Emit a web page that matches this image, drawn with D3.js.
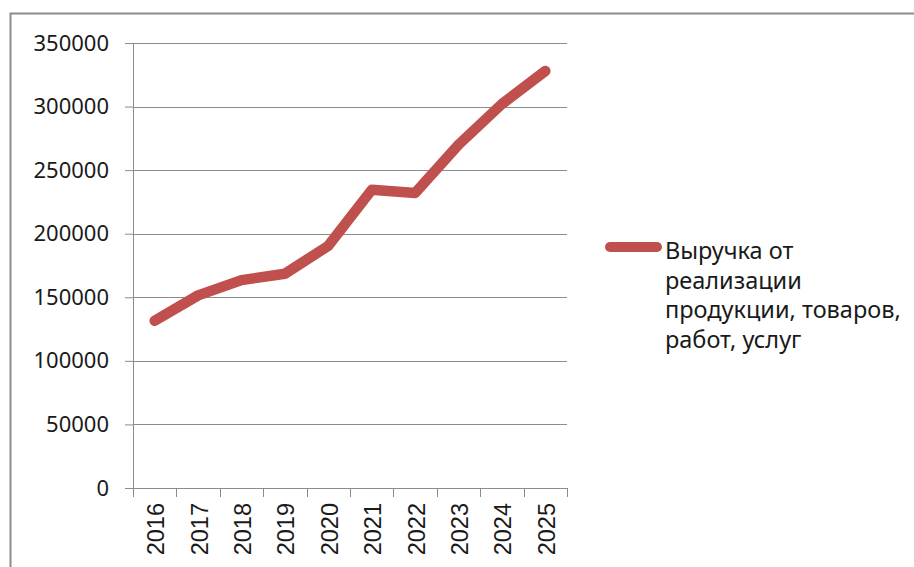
<!DOCTYPE html>
<html><head><meta charset="utf-8">
<script src="https://cdn.jsdelivr.net/npm/d3@7"></script>
<style>body{margin:0;background:#fff;}svg{display:block;}</style>
</head><body>
<svg id="c" width="914" height="567"></svg>
<script>
const years = ["2016","2017","2018","2019","2020","2021","2022","2023","2024","2025"];
const revenue = [131500, 151500, 163500, 168500, 190500, 234500, 232000, 270000, 302000, 328000];
const yTicks = [0, 50000, 100000, 150000, 200000, 250000, 300000, 350000];
const seriesName = ["Выручка от", "реализации", "продукции, товаров,", "работ, услуг"];

const svg = d3.select("#c");
const pL = 133, pR = 567, pT = 43, pB = 488;
const x = d3.scaleBand().domain(years).range([pL, pR]);
const y = d3.scaleLinear().domain([0, 350000]).range([pB, pT]);
const grid = "#8c8c8c";

// outer border
svg.append("rect").attr("x", 10.5).attr("y", 13.5).attr("width", 1000).attr("height", 1000)
  .attr("fill", "none").attr("stroke", "#8c8c8c").attr("stroke-width", 2);

// gridlines
svg.append("g").selectAll("line").data(yTicks.filter(d => d > 0)).join("line")
  .attr("x1", pL).attr("x2", pR)
  .attr("y1", d => Math.round(y(d)) + 0.5).attr("y2", d => Math.round(y(d)) + 0.5)
  .attr("stroke", grid).attr("stroke-width", 1);

// y axis
const yAxis = svg.append("g").attr("transform", `translate(${pL},0)`)
  .call(d3.axisLeft(y).tickValues(yTicks).tickSize(8).tickPadding(16).tickFormat(d3.format("d")).offset(0.5));
yAxis.select(".domain").attr("stroke", grid).attr("d", `M0.5,${pT}V${pB + 9}`);
yAxis.selectAll(".tick line").attr("stroke", grid);
yAxis.selectAll(".tick text").attr("fill", "#1a1a1a").style("font-family", "'Noto Sans', sans-serif").style("font-size", "22px").attr("x", -24);

// x axis
const xAxis = svg.append("g").attr("transform", `translate(0,${pB})`)
  .call(d3.axisBottom(x).tickSize(0).tickSizeOuter(0).offset(0.5));
xAxis.select(".domain").attr("stroke", grid).attr("d", `M${pL - 8},0.5H${pR}`);
xAxis.selectAll(".tick line").remove();
// tick marks at band boundaries
const bounds = years.map(d => x(d)).concat([pR]);
svg.append("g").selectAll("line").data(bounds).join("line")
  .attr("x1", d => Math.round(d) + 0.5).attr("x2", d => Math.round(d) + 0.5)
  .attr("y1", pB).attr("y2", pB + 9).attr("stroke", grid);
xAxis.selectAll(".tick text")
  .attr("transform", "rotate(-90)")
  .attr("text-anchor", "end")
  .attr("x", -15).attr("y", 1).attr("dy", "0.36em").attr("dx", 0)
  .attr("fill", "#1a1a1a")
  .style("font-family", "'Liberation Sans', Arial, sans-serif").style("font-size", "23.5px");

// line
const line = d3.line().x((d, i) => x(years[i]) + x.bandwidth() / 2).y(d => y(d));
svg.append("path").datum(revenue).attr("d", line)
  .attr("fill", "none").attr("stroke", "#C0504D").attr("stroke-width", 10.5)
  .attr("stroke-linejoin", "round").attr("stroke-linecap", "round");

// legend
svg.append("line").attr("x1", 610).attr("x2", 657).attr("y1", 247).attr("y2", 247)
  .attr("stroke", "#C0504D").attr("stroke-width", 10).attr("stroke-linecap", "round");
svg.append("g").selectAll("text").data(seriesName).join("text")
  .attr("x", 665).attr("y", (d, i) => 259 + i * 29.7)
  .attr("fill", "#1a1a1a")
  .style("font-family", "'Noto Sans', sans-serif").style("font-size", "23.5px")
  .text(d => d);
</script>
</body></html>
